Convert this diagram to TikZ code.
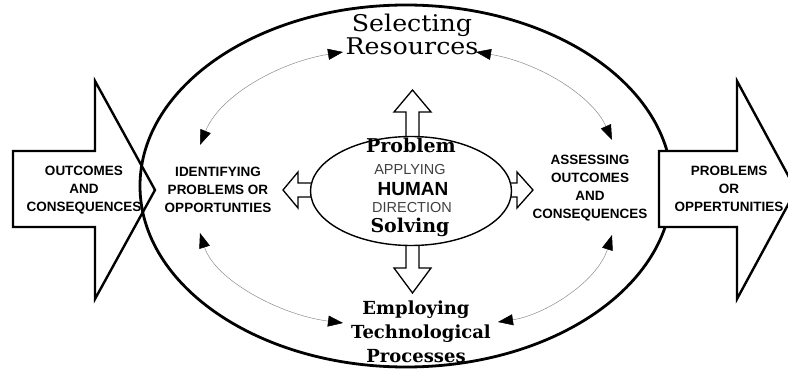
\documentclass[tikz,border=0pt]{standalone}
\usepackage{fontspec}
\setmainfont{DejaVu Serif}
\setsansfont{Liberation Sans}
\usepackage{xcolor}
\usetikzlibrary{arrows.meta,shapes}

\tikzset{
    caps/.style={font=\sffamily\bfseries\fontsize{13.5}{18}\selectfont, align=center},
    thin caps/.style={font=\sffamily\fontsize{14.5}{17}\selectfont, text=black!75},
    fancy/.style={font=\bfseries\fontsize{19}{22}\selectfont},
    stage/.style={font=\bfseries\fontsize{18}{22}\selectfont},
    plainstage/.style={font=\fontsize{23}{26}\selectfont\addfontfeatures{FakeStretch=1.1}},
    outline arrow/.style={draw=black, fill=white, line width=1.3pt, line join=miter},
    round trip/.style={draw=black!45, line width=0.5pt,
        {Triangle[length=15pt,width=11pt,color=black]}-{Triangle[length=15pt,width=11pt,color=black]}}
}

\begin{document}
\begin{tikzpicture}[x=1pt, y=-1pt, every node/.style={inner sep=0pt}]
                        \useasboundingbox (0,0) rectangle (788,369);
                        \clip (0,0) rectangle (788,369);
                        \node[ellipse, draw, line width=2.8pt, minimum width=532pt,
                        minimum height=362pt] (cycle) at (406,186) {};
                        \draw[line width=2.4pt, line join=miter]
                        (13,151) -- (95,151) -- (95,81) -- (155,190) -- (95,299)
                        -- (95,227) -- (13,227) -- cycle;
                        \filldraw[fill=white, line width=2.4pt, line join=miter]
                        (659,151) -- (737,151) -- (737,81) -- (796,190) -- (737,299)
                        -- (737,227) -- (659,227) -- cycle;

                        \node[caps] (outcomes) at (84,190)
                        {OUTCOMES\\AND\\CONSEQUENCES};
                        \node[caps] (identify) at (218,190)
                        {IDENTIFYING\\PROBLEMS OR\\OPPORTUNTIES};
                        \node[caps] (assess) at (590,188.5)
                        {ASSESSING\\OUTCOMES\\AND\\CONSEQUENCES};
                        \node[caps] (problems) at (729,188.5)
                        {PROBLEMS\\OR\\OPPERTUNITIES};

                        \node[plainstage, anchor=base] (select) at (412,32) {Selecting};
                        \node[plainstage, anchor=base] (resource) at (412,55) {Resources};
                        \node[stage, anchor=base] (employ) at (416,314) {Employing};
                        \node[stage, anchor=base] (techno) at (421,338) {Technological};
                        \node[stage, anchor=base] (process) at (416,362) {Processes};

                        \coordinate (tl top) at (343,52);
                        \coordinate (tl low) at (200,145);
                        \coordinate (tr top) at (476,52);
                        \coordinate (tr low) at (612,140);
                        \coordinate (bl up) at (200,233);
                        \coordinate (bl low) at (343,323);
                        \coordinate (br up) at (612,235);
                        \coordinate (br low) at (498,322);
                        \draw[round trip] (tl top) .. controls (280,62) and (220,95) .. (tl low);
                        \draw[round trip] (tr top) .. controls (537,62) and (592,95) .. (tr low);
                        \draw[round trip] (bl up) .. controls (215,280) and (280,315) .. (bl low);
                        \draw[round trip] (br up) .. controls (597,282) and (545,315) .. (br low);

                        \draw[outline arrow] (406,150) -- (406,112) -- (394,112) --
                        (412.5,90) -- (431,112) -- (419,112) -- (419,150) -- cycle;
                        \draw[outline arrow] (406,232) -- (406,268) -- (394,268) --
                        (412.5,293) -- (431,268) -- (419,268) -- (419,232) -- cycle;
                        \draw[outline arrow] (320,183) -- (298,183) -- (298,172) --
                        (283,190) -- (298,208) -- (298,197) -- (320,197) -- cycle;
                        \draw[outline arrow] (500,183) -- (517,183) -- (517,172) --
                        (533,190) -- (517,208) -- (517,197) -- (500,197) -- cycle;

                        \node[ellipse, draw, fill=white, line width=1.4pt,
                        minimum width=201pt, minimum height=109pt] (core) at (411,191) {};
                        \node[fancy, anchor=base] (prob) at (411,152) {Problem};
                        \node[thin caps, anchor=base] (apply) at (410,174) {APPLYING};
                        \node[caps, font=\sffamily\bfseries\fontsize{19}{22}\selectfont,
                        anchor=base] (human) at (413,195) {HUMAN};
                        \node[thin caps, anchor=base] (direct) at (412,212) {DIRECTION};
                        \node[fancy, anchor=base] (solve) at (410,232) {Solving};
                    \end{tikzpicture}
\end{document}
